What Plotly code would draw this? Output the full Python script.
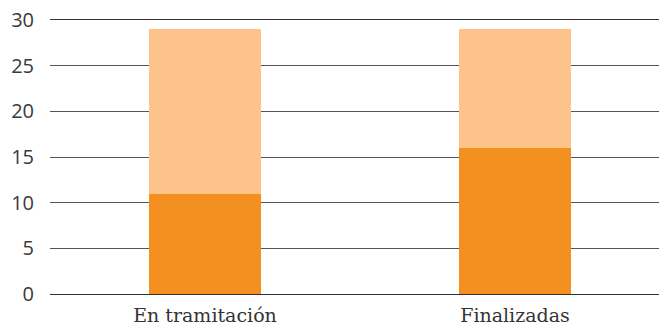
import plotly.graph_objects as go

categories = ["En tramitación", "Finalizadas"]
dark_values = [11, 16]
light_values = [18, 13]
y_ticks = [0, 5, 10, 15, 20, 25, 30]

fig = go.Figure()
fig.add_trace(go.Bar(x=[0, 1], y=dark_values, marker=dict(color="#F39020", line=dict(width=0)), showlegend=False))
fig.add_trace(go.Bar(x=[0, 1], y=light_values, marker=dict(color="#FDC38A", line=dict(width=0)), showlegend=False))

fig.update_layout(
    width=659, height=328,
    barmode="stack", bargap=0.64,
    margin=dict(l=50, r=0, t=20, b=34, autoexpand=False),
    plot_bgcolor="white", paper_bgcolor="white",
    xaxis=dict(range=[-0.5, 1.4645], tickvals=[0, 1], ticktext=categories,
               showgrid=False, zeroline=False, showline=True, mirror=True,
               linecolor="#333333", linewidth=1, automargin=False,
               tickfont=dict(family="DejaVu Serif", size=19, color="#333333"), ticks="",
               ticklabelstandoff=4),
    yaxis=dict(range=[0, 30], tickvals=y_ticks, showgrid=True, gridcolor="#555555", gridwidth=1,
               zeroline=True, zerolinecolor="#222222", zerolinewidth=1, showline=False,
               automargin=False,
               tickfont=dict(family="Open Sans", size=20, color="#3a3a3a"), ticks="",
               ticklabelstandoff=15),
)
fig.write_html("out.html", config={"displayModeBar": False},
               post_script="document.body.style.margin='0';document.body.style.overflow='hidden';")
